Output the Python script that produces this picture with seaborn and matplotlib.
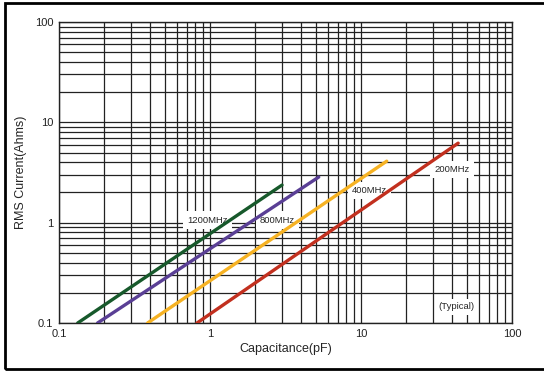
import matplotlib
matplotlib.use("Agg")
import matplotlib.pyplot as plt
import seaborn as sns
import pandas as pd
import numpy as np
from matplotlib.ticker import LogLocator, FixedLocator, FixedFormatter, NullFormatter
from matplotlib.patches import Rectangle

# Data (start/end points of each straight log-log line)
series = ["1200MHz", "800MHz", "400MHz", "200MHz"]
cap_start = [0.133, 0.18, 0.386, 0.82]
cap_end = [3.0, 5.25, 14.8, 44.0]
cur_start = [0.1, 0.1, 0.1, 0.1]
cur_end = [2.37, 2.85, 4.1, 6.2]
colors = ["#17592b", "#5a3f95", "#f6b223", "#c2301f"]
tick_vals = [0.1, 1, 10, 100]
tick_labels = ["0.1", "1", "10", "100"]
label_pos = {"1200MHz": (0.96, 1.06), "800MHz": (2.8, 1.06), "400MHz": (11.4, 2.1), "200MHz": (40, 3.4)}

rows = []
for s, c0, c1, i0, i1 in zip(series, cap_start, cap_end, cur_start, cur_end):
    rows.append({"series": s, "cap": c0, "cur": i0})
    rows.append({"series": s, "cap": c1, "cur": i1})
df = pd.DataFrame(rows)

sns.set_style("white")
plt.rcParams["font.family"] = ["Liberation Sans", "DejaVu Sans"]

fig = plt.figure(figsize=(5.44, 3.72), dpi=100)
ax = fig.add_axes([59/544, 1-323/372, (512-59)/544, (323-22)/372])

sns.lineplot(data=df, x="cap", y="cur", hue="series", hue_order=series,
             palette=colors, linewidth=2.4, legend=False, ax=ax, zorder=6,
             estimator=None, sort=False)

ax.set_xscale("log")
ax.set_yscale("log")
ax.set_xlim(0.1, 100)
ax.set_ylim(0.1, 100)

ax.xaxis.set_major_locator(FixedLocator(tick_vals))
ax.xaxis.set_major_formatter(FixedFormatter(tick_labels))
ax.yaxis.set_major_locator(FixedLocator(tick_vals))
ax.yaxis.set_major_formatter(FixedFormatter(tick_labels))
ax.xaxis.set_minor_locator(LogLocator(base=10, subs=np.arange(2, 10)))
ax.yaxis.set_minor_locator(LogLocator(base=10, subs=np.arange(2, 10)))
ax.xaxis.set_minor_formatter(NullFormatter())
ax.yaxis.set_minor_formatter(NullFormatter())
ax.grid(True, which="both", color="#222222", linewidth=0.9)
ax.tick_params(which="both", length=0, labelsize=8, colors="#222222", pad=4)
for sp in ax.spines.values():
    sp.set_color("#222222")
    sp.set_linewidth(1.0)

ax.set_xlabel("Capacitance(pF)", fontsize=9, labelpad=3)
ax.set_ylabel("RMS Current(Ahms)", fontsize=9, labelpad=6)

for s in series:
    x, y = label_pos[s]
    ax.text(x, y, s, fontsize=6.8, ha="center", va="center", zorder=4,
            bbox=dict(facecolor="white", edgecolor="none", pad=3.0))
ax.text(43, 0.145, "(Typical)", fontsize=6.8, ha="center", va="center", zorder=4,
        bbox=dict(facecolor="white", edgecolor="none", pad=2.5))

fig.patches.append(Rectangle((5/544, 3/372), 1.2, (368-2)/372, transform=fig.transFigure,
                             fill=False, edgecolor="black", linewidth=2.0))

fig.savefig("out.png", dpi=100)
